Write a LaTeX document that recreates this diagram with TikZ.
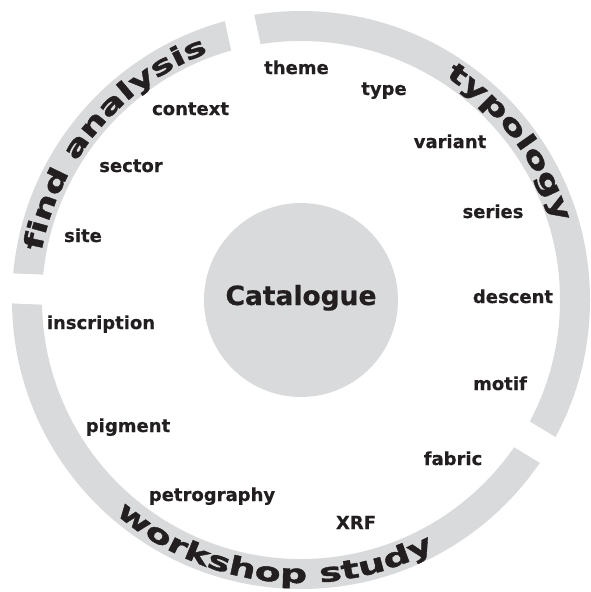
\documentclass[tikz,border=0pt]{standalone}
\usepackage{fontspec}
\setmainfont{DejaVu Sans}
\newfontfamily\labfont[BoldFeatures={FakeBold=0.5}]{DejaVu Sans}
\newfontfamily\ringfont[FakeStretch=1.46,BoldFeatures={FakeBold=1.5}]{DejaVu Sans}
\usetikzlibrary{decorations.text}
\definecolor{ringgray}{HTML}{D9DADB}
\definecolor{inkgray}{HTML}{231F20}
\begin{document}
\begin{tikzpicture}[x=1pt,y=1pt,
  lab/.style={font=\labfont\bfseries\fontsize{18}{18}\selectfont, text=inkgray, inner sep=0pt, anchor=base},
  ringtext/.style={decorate, decoration={text along path, text={|\ringfont\bfseries\fontsize{26}{26}\selectfont|#1}, text align=center, text color=inkgray}}]
\useasboundingbox (0,0) rectangle (590,-592);
\coordinate (ctr) at (301,-300);
% ring
\fill[ringgray, even odd rule] (ctr) circle[radius=289] (ctr) circle[radius=259];
\foreach \a in {102.3,177.7,-31.3}
  \draw[white, line width=30pt] (ctr) ++(\a:245) -- ++(\a:60);
% centre
\node[circle, fill=ringgray, minimum size=194pt, inner sep=0pt] (cat) at (ctr) {};
\node[lab, font=\labfont\bfseries\fontsize{26.5}{26.5}\selectfont] (catl) at ([yshift=-5pt]cat.center) {Catalogue};
% ring texts
\path[ringtext={find analysis}] (ctr) ++(180:264) arc[start angle=180, end angle=100, radius=264];
\path[ringtext={typology}] (ctr) ++(77:266) arc[start angle=77, end angle=-3, radius=266];
\path[ringtext={workshop study}] (ctr) ++(213.6:283) arc[start angle=213.6, end angle=313.6, radius=283];
% labels
\node[lab] (theme) at (296.5,-74) {theme};
\node[lab] (type) at (384,-95) {type};
\node[lab] (variant) at (450,-148) {variant};
\node[lab] (series) at (493,-218) {series};
\node[lab] (descent) at (513,-303) {descent};
\node[lab] (motif) at (500,-390) {motif};
\node[lab] (fabric) at (453,-465) {fabric};
\node[lab] (xrf) at (356,-529) {XRF};
\node[lab] (petro) at (212,-501) {petrography};
\node[lab] (pigment) at (128,-432) {pigment};
\node[lab] (inscr) at (101,-329) {inscription};
\node[lab] (site) at (83,-242) {site};
\node[lab] (sector) at (131,-172) {sector};
\node[lab] (context) at (190.5,-115) {context};
\end{tikzpicture}
\end{document}
